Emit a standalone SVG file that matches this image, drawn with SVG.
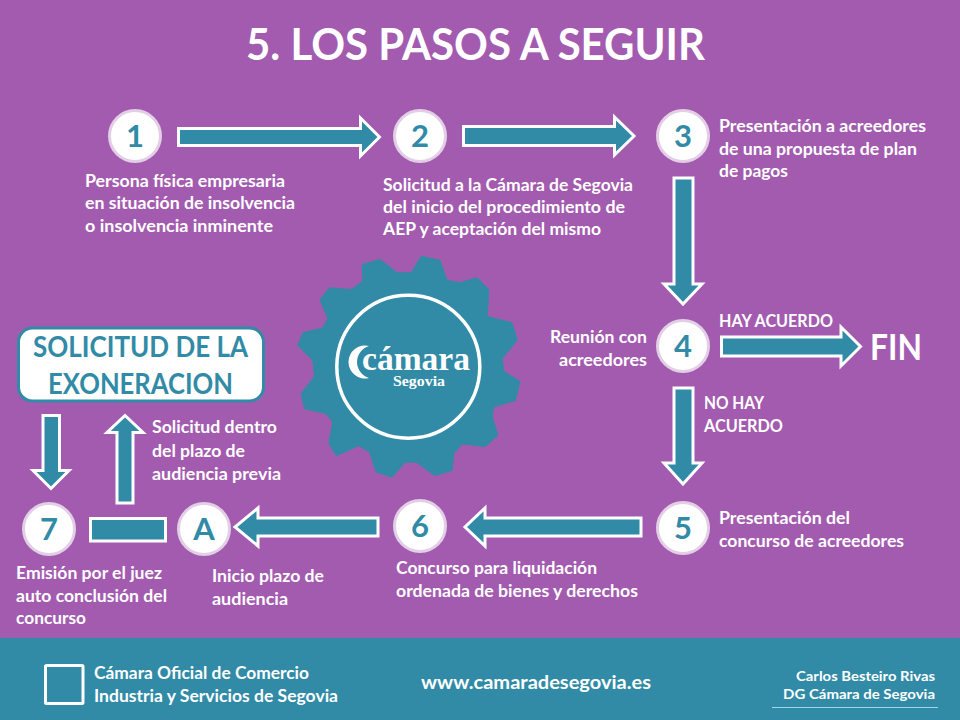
<svg xmlns="http://www.w3.org/2000/svg" width="960" height="720" viewBox="0 0 960 720">
<style>
text{font-family:"Lato","Open Sans","Liberation Sans",sans-serif;font-weight:700;fill:#fff}
.t{font-size:16.500px;transform:translateY(.8px)}
.n{font-size:31px;fill:#318BA6;text-anchor:middle}
.c{fill:#fff;stroke:#E2CFE6;stroke-width:3}
.a{fill:#318BA6;stroke:#fff;stroke-width:3;stroke-linejoin:miter}
.b{font-size:28px;fill:#318BA6}
.s{font-family:"Liberation Serif",serif}
</style>
<rect width="960" height="720" fill="#A35BB0"/>
<rect y="638" width="960" height="82" fill="#318BA6"/>
<text x="246" y="60" font-size="44" textLength="459" lengthAdjust="spacingAndGlyphs">5. LOS PASOS A SEGUIR</text>
<g id="gear">
<polygon fill="#318BA6" stroke="#318BA6" stroke-width="6" stroke-linejoin="round" transform="translate(280 240) scale(.3333)" points="425,50 478,62 500,122 540,130 590,115 625,150 620,230 695,250 710,300 665,355 670,395 718,425 705,480 640,500 635,530 652,585 615,618 545,610 520,640 515,690 465,705 410,665 375,665 335,710 290,695 270,635 235,615 170,645 148,610 160,545 140,520 75,505 65,462 105,410 100,360 55,315 70,280 130,265 145,235 122,180 150,145 215,150 250,125 248,75 300,60 350,100 395,100"/>
<circle cx="408.300" cy="366.700" r="71.500" fill="none" stroke="#fff" stroke-width="3.500"/>
<path d="M369 346A16.500 16.500 0 1 0 369 378A17 17 0 0 1 357 362A17 17 0 0 1 369 346Z" fill="#fff"/>
<text class="s" x="362" y="370" font-size="34" textLength="108" lengthAdjust="spacingAndGlyphs">cámara</text>
<text class="s" x="393" y="386" font-size="15" textLength="52" lengthAdjust="spacingAndGlyphs">Segovia</text>
</g>
<g id="connectors">
<path class="a" d="M178.500 128.500H360.500V118L379.500 137L360.500 156V145.500H178.500Z"/>
<path class="a" d="M463.500 126.500H614.500V117L634 136L614.500 155V145.500H463.500Z"/>
<path class="a" d="M674 178H693V284H702L683 304L664 284H674Z"/>
<path class="a" d="M721.500 337H841V327L860.500 346.500L841 366V356H721.500Z"/>
<path class="a" d="M674 388H693V463H702L683 484L664 463H674Z"/>
<path class="a" d="M641 518H485V508L465 527L485 546V536H641Z"/>
<path class="a" d="M378 518H258V508L235 527L258 546V536H378Z"/>
<rect class="a" x="90.500" y="518.500" width="75" height="22.500"/>
<path class="a" d="M117 503V432.500H107L125 415.500L143 432.500H133V503Z"/>
<path class="a" d="M43 415.500H59.500V470.500H69L51 488.500L33 470.500H43Z"/>
</g>
<g id="n1"><circle class="c" cx="135" cy="136" r="25.500"/><text class="n" x="135" y="147">1</text>
<text class="t" x="85" y="186" textLength="200" lengthAdjust="spacingAndGlyphs">Persona física empresaria</text>
<text class="t" x="85" y="208" textLength="210" lengthAdjust="spacingAndGlyphs">en situación de insolvencia</text>
<text class="t" x="85" y="231" textLength="188" lengthAdjust="spacingAndGlyphs">o insolvencia inminente</text></g>
<g id="n2"><circle class="c" cx="420" cy="136" r="25.500"/><text class="n" x="420" y="147">2</text>
<text class="t" x="383" y="190" textLength="250" lengthAdjust="spacingAndGlyphs">Solicitud a la Cámara de Segovia</text>
<text class="t" x="383" y="212" textLength="242" lengthAdjust="spacingAndGlyphs">del inicio del procedimiento de</text>
<text class="t" x="383" y="234" textLength="218" lengthAdjust="spacingAndGlyphs">AEP y aceptación del mismo</text></g>
<g id="n3"><circle class="c" cx="683" cy="136" r="25.500"/><text class="n" x="683" y="147">3</text>
<text class="t" x="719" y="131" textLength="207" lengthAdjust="spacingAndGlyphs">Presentación a acreedores</text>
<text class="t" x="719" y="154" textLength="198" lengthAdjust="spacingAndGlyphs">de una propuesta de plan</text>
<text class="t" x="719" y="176" textLength="69" lengthAdjust="spacingAndGlyphs">de pagos</text></g>
<g id="n4"><circle class="c" cx="683" cy="346" r="25.500"/><text class="n" x="683" y="357">4</text>
<text class="t" x="550" y="342" textLength="97" lengthAdjust="spacingAndGlyphs">Reunión con</text>
<text class="t" x="559" y="365" textLength="88" lengthAdjust="spacingAndGlyphs">acreedores</text></g>
<g id="n5"><circle class="c" cx="683" cy="528" r="25.500"/><text class="n" x="683" y="539">5</text>
<text class="t" x="719" y="523" textLength="131" lengthAdjust="spacingAndGlyphs">Presentación del</text>
<text class="t" x="719" y="546" textLength="185" lengthAdjust="spacingAndGlyphs">concurso de acreedores</text></g>
<g id="n6"><circle class="c" cx="420" cy="526" r="25.500"/><text class="n" x="420" y="537">6</text>
<text class="t" x="396" y="573" textLength="201" lengthAdjust="spacingAndGlyphs">Concurso para liquidación</text>
<text class="t" x="396" y="596" textLength="242" lengthAdjust="spacingAndGlyphs">ordenada de bienes y derechos</text></g>
<g id="nA"><circle class="c" cx="204" cy="529" r="25.500"/><text class="n" x="204" y="540">A</text>
<text class="t" x="212" y="581" textLength="112" lengthAdjust="spacingAndGlyphs">Inicio plazo de</text>
<text class="t" x="212" y="604" textLength="76" lengthAdjust="spacingAndGlyphs">audiencia</text></g>
<g id="n7"><circle class="c" cx="49" cy="529" r="25.500"/><text class="n" x="49" y="540">7</text>
<text class="t" x="16" y="578" textLength="146" lengthAdjust="spacingAndGlyphs">Emisión por el juez</text>
<text class="t" x="16" y="601" textLength="151" lengthAdjust="spacingAndGlyphs">auto conclusión del</text>
<text class="t" x="16" y="623" textLength="70" lengthAdjust="spacingAndGlyphs">concurso</text></g>
<g id="fin"><text x="870" y="360" font-size="37" textLength="52" lengthAdjust="spacingAndGlyphs">FIN</text></g>
<g id="box"><rect x="18.500" y="328" width="245" height="73" rx="14" fill="#fff" stroke="#318BA6" stroke-width="3"/>
<text class="b" x="33" y="357" textLength="215" lengthAdjust="spacingAndGlyphs">SOLICITUD DE LA</text>
<text class="b" x="48" y="394" textLength="185" lengthAdjust="spacingAndGlyphs">EXONERACION</text></g>
<g id="labels">
<text class="t" x="719" y="326" textLength="114" lengthAdjust="spacingAndGlyphs">HAY ACUERDO</text>
<text class="t" x="704" y="408" textLength="60" lengthAdjust="spacingAndGlyphs">NO HAY</text>
<text class="t" x="704" y="431" textLength="79" lengthAdjust="spacingAndGlyphs">ACUERDO</text>
<text class="t" x="152" y="432" textLength="125" lengthAdjust="spacingAndGlyphs">Solicitud dentro</text>
<text class="t" x="152" y="456" textLength="93" lengthAdjust="spacingAndGlyphs">del plazo de</text>
<text class="t" x="152" y="479" textLength="129" lengthAdjust="spacingAndGlyphs">audiencia previa</text>
</g>
<g id="footer">
<rect x="45.500" y="665.500" width="37.500" height="38" fill="none" stroke="#fff" stroke-width="3" rx="1"/>
<text class="t" x="94" y="678" textLength="215" lengthAdjust="spacingAndGlyphs">Cámara Oficial de Comercio</text>
<text class="t" x="94" y="701" textLength="244" lengthAdjust="spacingAndGlyphs">Industria y Servicios de Segovia</text>
<text x="421" y="689" font-size="19" textLength="230" lengthAdjust="spacingAndGlyphs">www.camaradesegovia.es</text>
<text x="796" y="681" font-size="14" textLength="139" lengthAdjust="spacingAndGlyphs">Carlos Besteiro Rivas</text>
<text x="783" y="699" font-size="14" textLength="152" lengthAdjust="spacingAndGlyphs">DG Cámara de Segovia</text>
<line x1="772" y1="707.500" x2="938" y2="707.500" stroke="#9FD8EE" stroke-width="1"/>
</g>
</svg>
